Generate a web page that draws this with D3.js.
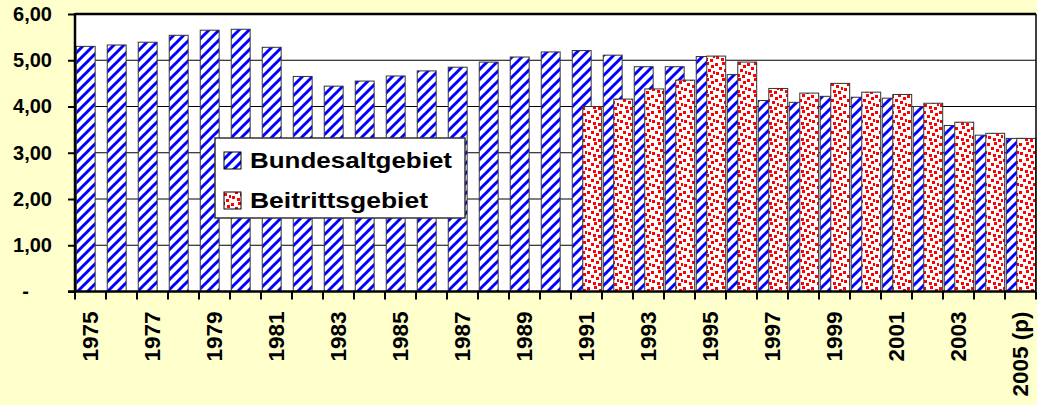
<!DOCTYPE html>
<meta charset="utf-8">
<style>
body { margin: 0; background: #ffffcc; }
svg { display: block; font-family: Arial, "Liberation Sans", sans-serif; font-weight: bold; }
.axis path { display: none; }
.axis text { font-size: 20px; fill: #000; }
</style>
<svg width="1037" height="405"></svg>
<script src="https://d3js.org/d3.v7.min.js"></script>
<script>

var years = ["1975","1976","1977","1978","1979","1980","1981","1982","1983","1984",
             "1985","1986","1987","1988","1989","1990","1991","1992","1993","1994",
             "1995","1996","1997","1998","1999","2000","2001","2002","2003","2004","2005"];

var yearLabels = ["1975","","1977","","1979","","1981","","1983","","1985","","1987","","1989","",
                  "1991","","1993","","1995","","1997","","1999","","2001","","2003","","2005 (p)"];

var bundesaltgebiet = [5.30, 5.33, 5.39, 5.54, 5.65, 5.67, 5.28, 4.65, 4.44, 4.55,
                       4.66, 4.77, 4.85, 4.96, 5.07, 5.18, 5.21, 5.11, 4.86, 4.86,
                       5.08, 4.69, 4.13, 4.09, 4.22, 4.20, 4.18, 4.00, 3.59, 3.38, 3.31];

var beitrittsgebiet = [null, null, null, null, null, null, null, null, null, null,
                       null, null, null, null, null, null, 4.00, 4.16, 4.38, 4.57,
                       5.09, 4.96, 4.39, 4.29, 4.50, 4.31, 4.26, 4.07, 3.66, 3.42, 3.31];

var seriesNames = ["Bundesaltgebiet", "Beitrittsgebiet"];
var yTicks = [0, 1, 2, 3, 4, 5, 6];

var svg = d3.select("svg"),
    margin = {top: 14, right: 1, bottom: 113.5, left: 75},
    width = +svg.attr("width") - margin.left - margin.right,
    height = +svg.attr("height") - margin.top - margin.bottom;

var defs = svg.append("defs");

// wide upward diagonal
var stripes = defs.append("pattern")
    .attr("id", "stripes")
    .attr("patternUnits", "userSpaceOnUse")
    .attr("width", 10).attr("height", 10);
stripes.append("rect").attr("width", 10).attr("height", 10).attr("fill", "#fff");
stripes.append("path")
    .attr("d", "M-3,3 L3,-3 M0,10 L10,0 M7,13 L13,7")
    .attr("stroke", "#0000ff")
    .attr("stroke-width", 3);

// large confetti
var confetti = defs.append("pattern")
    .attr("id", "confetti")
    .attr("patternUnits", "userSpaceOnUse")
    .attr("width", 16).attr("height", 16);
confetti.append("rect").attr("width", 16).attr("height", 16).attr("fill", "#fff");
[[0,1],[7,0],[12,3],[4,5],[9,7],[1,10],[14,9],[6,12],[11,13]].forEach(function(p) {
  confetti.append("rect")
      .attr("x", p[0]).attr("y", p[1])
      .attr("width", 3).attr("height", 3)
      .attr("fill", "#ff0000");
});

var fills = ["url(#stripes)", "url(#confetti)"];

var x = d3.scaleBand().domain(years).range([0, width]).padding(0),
    y = d3.scaleLinear().domain([0, 6]).range([height, 0]);

var bw = x.bandwidth();

var g = svg.append("g")
    .attr("transform", "translate(" + margin.left + "," + margin.top + ")");

g.append("rect")
    .attr("width", width)
    .attr("height", height)
    .attr("fill", "#fff");

// gridlines
g.selectAll(".grid")
  .data(yTicks.filter(function(d) { return d > 0 && d < 6; }))
  .enter().append("line")
    .attr("x1", 0).attr("x2", width)
    .attr("y1", function(d) { return y(d); })
    .attr("y2", function(d) { return y(d); })
    .attr("stroke", "#000")
    .attr("stroke-width", 1);

// bars
g.selectAll(".bar1")
  .data(years.map(function(d, i) { return {year: d, v: bundesaltgebiet[i]}; }))
  .enter().append("rect")
    .attr("x", function(d) { return x(d.year) + bw * 0.04; })
    .attr("y", function(d) { return y(d.v); })
    .attr("width", bw * 0.61)
    .attr("height", function(d) { return height - y(d.v); })
    .attr("fill", fills[0])
    .attr("stroke", "#333")
    .attr("stroke-width", 1);

g.selectAll(".bar2")
  .data(years.map(function(d, i) { return {year: d, v: beitrittsgebiet[i]}; })
             .filter(function(d) { return d.v != null; }))
  .enter().append("rect")
    .attr("x", function(d) { return x(d.year) + bw * 0.38; })
    .attr("y", function(d) { return y(d.v); })
    .attr("width", bw * 0.61)
    .attr("height", function(d) { return height - y(d.v); })
    .attr("fill", fills[1])
    .attr("stroke", "#333")
    .attr("stroke-width", 1);

// frame
g.append("line").attr("x1", 0).attr("x2", width).attr("y1", 0).attr("y2", 0)
    .attr("stroke", "#000").attr("stroke-width", 2.5);
g.append("line").attr("x1", width).attr("x2", width).attr("y1", 0).attr("y2", height)
    .attr("stroke", "#000").attr("stroke-width", 1.5);

// y axis
var yAxis = g.append("g")
    .attr("class", "axis")
    .call(d3.axisLeft(y)
      .tickValues(yTicks)
      .tickSize(7)
      .tickPadding(16)
      .tickFormat(function(d) { return d === 0 ? "-" : d3.format(".2f")(d).replace(".", ","); }));
yAxis.selectAll(".tick line").attr("stroke", "#000").attr("stroke-width", 2);
yAxis.selectAll(".tick text").filter(function(d) { return d === 0; }).attr("x", -46);

g.append("line").attr("x1", 0).attr("x2", 0).attr("y1", -1).attr("y2", height + 1)
    .attr("stroke", "#000").attr("stroke-width", 2.5);

// x axis
var xa = g.append("g").attr("transform", "translate(0," + height + ")");
xa.append("line").attr("x1", -7).attr("x2", width).attr("y1", 0).attr("y2", 0)
    .attr("stroke", "#000").attr("stroke-width", 2.5);
xa.selectAll(".xtick")
  .data(years.concat(["end"]))
  .enter().append("line")
    .attr("x1", function(d) { return d === "end" ? width : x(d); })
    .attr("x2", function(d) { return d === "end" ? width : x(d); })
    .attr("y1", 0).attr("y2", 8)
    .attr("stroke", "#000").attr("stroke-width", 2);
xa.selectAll(".xlabel")
  .data(years)
  .enter().append("text")
    .attr("transform", function(d) {
      return "translate(" + (x(d) + bw / 2 - 1) + ",20) rotate(-90)";
    })
    .attr("text-anchor", "end")
    .attr("dy", "0.36em")
    .style("font-size", "22.5px")
    .text(function(d, i) { return yearLabels[i]; });

// legend
var legend = svg.append("g").attr("transform", "translate(215,138)");
legend.append("rect")
    .attr("width", 250).attr("height", 80)
    .attr("fill", "#fff")
    .attr("stroke", "#333").attr("stroke-width", 1.5);
seriesNames.forEach(function(name, i) {
  legend.append("rect")
      .attr("x", 9).attr("y", 14 + i * 40)
      .attr("width", 17).attr("height", 17)
      .attr("fill", fills[i])
      .attr("stroke", "#000").attr("stroke-width", 1);
  legend.append("text")
      .attr("x", 35).attr("y", 30 + i * 39.5)
      .attr("textLength", i === 0 ? 202 : 178)
      .attr("lengthAdjust", "spacingAndGlyphs")
      .style("font-size", "22px")
      .text(name);
});

</script>
